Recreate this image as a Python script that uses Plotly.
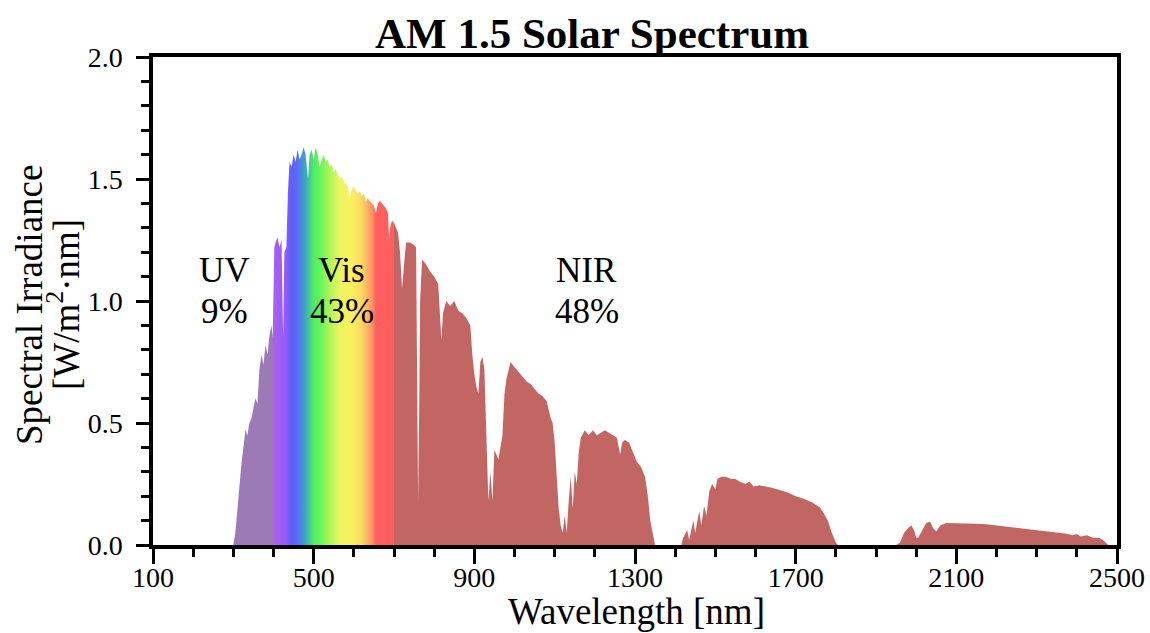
import plotly.graph_objects as go

# ---------------- data ----------------
wavelength_nm = [
    280, 295, 300, 305, 310, 315, 320, 325, 330, 335, 340, 345, 350, 355, 360, 365, 370, 375, 380, 385,
    390, 395, 398, 400, 402, 405, 410, 415, 420, 424, 427, 432, 436, 440, 445, 450, 455, 460, 465, 470,
    475, 480, 486, 490, 495, 500, 505, 510, 515, 520, 525, 530, 535, 540, 545, 550, 555, 560, 565, 570,
    575, 580, 585, 590, 595, 600, 605, 610, 615, 620, 625, 630, 635, 640, 645, 650, 655, 660, 665, 670,
    675, 680, 685, 688, 690, 695, 700, 705, 710, 715, 720, 725, 730, 740, 750, 755, 760, 763, 765, 770,
    780, 790, 800, 810, 815, 818, 822, 830, 840, 850, 860, 870, 880, 890, 895, 900, 905, 910, 915, 920,
    925, 930, 935, 940, 945, 950, 960, 970, 975, 980, 985, 990, 1000, 1010, 1020, 1030, 1040, 1050, 1060, 1070,
    1080, 1090, 1095, 1100, 1105, 1110, 1115, 1120, 1125, 1130, 1135, 1140, 1145, 1150, 1155, 1160, 1165, 1175, 1185, 1195,
    1205, 1215, 1225, 1235, 1245, 1255, 1263, 1268, 1275, 1285, 1295, 1305, 1315, 1325, 1332, 1338, 1345, 1350, 1415, 1420,
    1430, 1435, 1445, 1450, 1460, 1465, 1472, 1478, 1485, 1492, 1500, 1505, 1515, 1525, 1540, 1550, 1560, 1575, 1585, 1595,
    1610, 1625, 1640, 1660, 1680, 1700, 1720, 1740, 1750, 1760, 1770, 1780, 1790, 1800, 1805, 1950, 1960, 1970, 1980, 1988,
    1995, 2000, 2005, 2015, 2025, 2035, 2042, 2050, 2060, 2075, 2100, 2125, 2150, 2175, 2200, 2225, 2250, 2275, 2300, 2325,
    2350, 2375, 2390, 2400, 2410, 2425, 2440, 2455, 2465, 2478,
]
irradiance = [
    0.0, 0.0, 0.0, 0.05, 0.15, 0.25, 0.33, 0.40, 0.47, 0.45, 0.50, 0.52, 0.56, 0.60, 0.58, 0.72, 0.78, 0.74, 0.82, 0.78,
    0.86, 0.90, 0.85, 1.10, 1.22, 1.24, 1.26, 1.22, 1.25, 0.85, 1.20, 1.22, 1.45, 1.57, 1.55, 1.60, 1.57, 1.62, 1.58, 1.60,
    1.63, 1.60, 1.50, 1.60, 1.62, 1.58, 1.63, 1.60, 1.55, 1.58, 1.60, 1.57, 1.58, 1.55, 1.56, 1.53, 1.54, 1.52, 1.50, 1.51,
    1.49, 1.48, 1.47, 1.42, 1.46, 1.47, 1.45, 1.44, 1.45, 1.43, 1.44, 1.41, 1.42, 1.41, 1.40, 1.39, 1.36, 1.40, 1.41, 1.40,
    1.39, 1.38, 1.36, 1.25, 1.30, 1.33, 1.32, 1.30, 1.28, 1.20, 1.05, 1.15, 1.24, 1.24, 1.23, 1.22, 0.18, 0.60, 1.00, 1.17,
    1.15, 1.12, 1.10, 1.07, 0.90, 0.84, 0.95, 1.00, 0.98, 1.00, 0.96, 0.95, 0.93, 0.90, 0.78, 0.70, 0.65, 0.62, 0.75, 0.77,
    0.72, 0.45, 0.18, 0.30, 0.18, 0.39, 0.35, 0.45, 0.62, 0.68, 0.72, 0.75, 0.73, 0.71, 0.69, 0.67, 0.66, 0.64, 0.62, 0.61,
    0.59, 0.52, 0.50, 0.42, 0.30, 0.15, 0.08, 0.05, 0.12, 0.05, 0.18, 0.28, 0.15, 0.30, 0.25, 0.38, 0.44, 0.47, 0.45, 0.47,
    0.45, 0.46, 0.47, 0.46, 0.45, 0.44, 0.37, 0.42, 0.43, 0.42, 0.38, 0.34, 0.32, 0.28, 0.20, 0.10, 0.04, 0.0, 0.0, 0.03,
    0.06, 0.02, 0.10, 0.05, 0.14, 0.08, 0.16, 0.12, 0.22, 0.25, 0.23, 0.27, 0.28, 0.28, 0.27, 0.27, 0.26, 0.25, 0.26, 0.24,
    0.245, 0.24, 0.235, 0.225, 0.215, 0.20, 0.19, 0.175, 0.165, 0.155, 0.13, 0.10, 0.05, 0.01, 0.0, 0.0, 0.01, 0.05, 0.07, 0.08,
    0.06, 0.03, 0.03, 0.06, 0.09, 0.095, 0.07, 0.055, 0.08, 0.09, 0.09, 0.09, 0.087, 0.085, 0.08, 0.076, 0.072, 0.066, 0.06, 0.054,
    0.05, 0.046, 0.04, 0.045, 0.035, 0.04, 0.03, 0.03, 0.02, 0.0,
]

band_labels = ["UV", "Vis", "NIR"]
band_shares = ["9%", "43%", "48%"]
band_label_wl = [279, 570, 1180]

x_tick_vals = [100, 500, 900, 1300, 1700, 2100, 2500]
y_tick_vals = [0.0, 0.5, 1.0, 1.5, 2.0]

# colour stops (wavelength, colour) for the filled area
color_stop_wl = [280, 399, 400, 430, 445, 460, 480, 500, 515, 540, 565, 595, 620, 645, 655, 700, 701, 2500]
color_stop_rgb = [
    "rgb(155,122,182)", "rgb(155,122,182)", "rgb(168,98,240)", "rgb(150,90,245)", "rgb(95,95,250)",
    "rgb(90,110,245)", "rgb(60,170,190)", "rgb(80,235,100)", "rgb(95,245,90)", "rgb(175,245,90)",
    "rgb(235,245,95)", "rgb(250,240,95)", "rgb(250,215,100)", "rgb(250,150,100)", "rgb(255,95,95)",
    "rgb(255,95,95)", "rgb(194,102,100)", "rgb(194,102,100)",
]

# ---------------- figure ----------------
g_start, g_stop = color_stop_wl[0], color_stop_wl[-1]
colorscale = [[(w - g_start) / (g_stop - g_start), c] for w, c in zip(color_stop_wl, color_stop_rgb)]

FONT = "Liberation Serif"
L, R, T, B = 153, 33, 57, 88
PW, PH = 1150 - L - R, 633 - T - B

fig = go.Figure()
fig.add_trace(go.Scatter(
    x=wavelength_nm, y=irradiance, mode="lines", fill="tozeroy",
    line=dict(width=0, color="rgba(0,0,0,0)"),
    fillgradient=dict(type="horizontal", colorscale=colorscale, start=g_start, stop=g_stop),
    hoverinfo="x+y", showlegend=False,
))

annotations = []
for lab, share, wl in zip(band_labels, band_shares, band_label_wl):
    annotations.append(dict(x=wl, y=1.125, xref="x", yref="y", text=lab, showarrow=False,
                            font=dict(family=FONT, size=35, color="black")))
    annotations.append(dict(x=wl, y=0.955, xref="x", yref="y", text=share, showarrow=False,
                            font=dict(family=FONT, size=35, color="black")))

# axis titles
annotations.append(dict(x=(636 - L) / PW, y=(PH + T - 611) / PH, xref="paper", yref="paper",
                        text="Wavelength [nm]", showarrow=False, xanchor="center", yanchor="middle",
                        font=dict(family=FONT, size=37, color="black")))
annotations.append(dict(x=(29 - L) / PW, y=(PH + T - 305) / PH, xref="paper", yref="paper",
                        text="Spectral Irradiance", showarrow=False, textangle=-90,
                        xanchor="center", yanchor="middle",
                        font=dict(family=FONT, size=37, color="black")))
annotations.append(dict(x=(63 - L) / PW, y=(PH + T - 305) / PH, xref="paper", yref="paper",
                        text="[W/m<sup>2</sup>·nm]", showarrow=False, textangle=-90,
                        xanchor="center", yanchor="middle",
                        font=dict(family=FONT, size=37, color="black")))

fig.update_layout(
    width=1150, height=633,
    margin=dict(l=L, r=R, t=T, b=B, autoexpand=False),
    paper_bgcolor="white", plot_bgcolor="white",
    font=dict(family=FONT, color="black"),
    title=dict(text="<b>AM 1.5 Solar Spectrum</b>", x=592 / 1150, xref="container", xanchor="center",
               y=1 - 33 / 633, yref="container", yanchor="middle",
               font=dict(family=FONT, size=43, color="black")),
    annotations=annotations,
    showlegend=False,
)

fig.update_xaxes(
    range=[100, 2500], tickmode="array", tickvals=x_tick_vals, ticktext=[str(v) for v in x_tick_vals],
    ticks="outside", ticklen=15, tickwidth=3, tickcolor="black", ticklabelstandoff=-10,
    minor=dict(dtick=100, ticks="outside", ticklen=8, tickwidth=3, tickcolor="black", showgrid=False),
    showline=True, linewidth=3.5, linecolor="black", mirror=True,
    showgrid=False, zeroline=False, automargin=False,
    tickfont=dict(family=FONT, size=28, color="black"),
)
fig.update_yaxes(
    range=[0, 2.0], tickmode="array", tickvals=y_tick_vals, ticktext=[f"{v:.1f}" for v in y_tick_vals],
    ticks="outside", ticklen=13, tickwidth=3, tickcolor="black", ticklabelstandoff=8,
    minor=dict(dtick=0.1, ticks="outside", ticklen=8, tickwidth=3, tickcolor="black", showgrid=False),
    showline=True, linewidth=3.5, linecolor="black", mirror=True,
    showgrid=False, zeroline=False, automargin=False,
    tickfont=dict(family=FONT, size=28, color="black"),
)

fig.write_html("out.html", config={"displayModeBar": False},
               post_script="document.body.style.margin='0px';document.body.style.overflow='hidden';")
